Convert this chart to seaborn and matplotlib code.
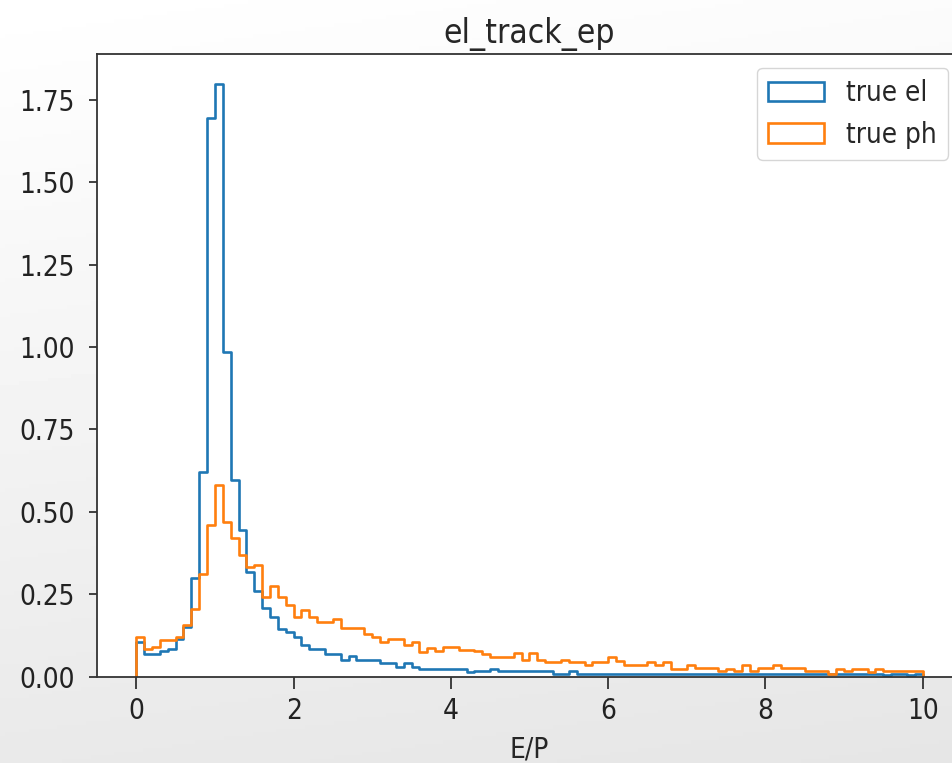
import numpy as np
import pandas as pd
import matplotlib
matplotlib.use("Agg")
import matplotlib.pyplot as plt
from matplotlib.patches import Patch
import seaborn as sns

# ---- data (density per bin, 100 bins of width 0.1 on [0, 10]) ----
bin_edges = [round(0.1 * i, 1) for i in range(101)]
labels = ["true el", "true ph"]

el_density = [
    0.105, 0.069, 0.069, 0.077, 0.084, 0.115, 0.150, 0.300, 0.620, 1.697,
    1.800, 0.986, 0.598, 0.445, 0.318, 0.260, 0.207, 0.181, 0.145, 0.135,
    0.120, 0.095, 0.084, 0.084, 0.069, 0.069, 0.051, 0.061, 0.051, 0.051,
    0.051, 0.041, 0.041, 0.030, 0.041, 0.030, 0.023, 0.023, 0.023, 0.023,
    0.023, 0.023, 0.014, 0.016, 0.016, 0.024, 0.017, 0.017, 0.017, 0.017,
    0.017, 0.017, 0.017, 0.008, 0.008, 0.016, 0.008, 0.008, 0.008, 0.008,
    0.008, 0.008, 0.008, 0.008, 0.008, 0.008, 0.008, 0.008, 0.008, 0.008,
    0.008, 0.008, 0.008, 0.008, 0.008, 0.008, 0.008, 0.008, 0.008, 0.008,
    0.008, 0.008, 0.008, 0.008, 0.008, 0.008, 0.008, 0.008, 0.008, 0.008,
    0.008, 0.008, 0.008, 0.008, 0.008, 0.005, 0.008, 0.008, 0.005, 0.008,
]

ph_density = [
    0.120, 0.084, 0.089, 0.110, 0.110, 0.120, 0.155, 0.206, 0.310, 0.460,
    0.582, 0.470, 0.420, 0.369, 0.333, 0.340, 0.242, 0.274, 0.242, 0.216,
    0.181, 0.201, 0.181, 0.166, 0.166, 0.176, 0.148, 0.148, 0.148, 0.130,
    0.120, 0.105, 0.115, 0.115, 0.095, 0.105, 0.074, 0.086, 0.077, 0.089,
    0.089, 0.079, 0.079, 0.077, 0.067, 0.059, 0.059, 0.059, 0.071, 0.051,
    0.071, 0.051, 0.044, 0.044, 0.051, 0.044, 0.044, 0.034, 0.044, 0.044,
    0.059, 0.047, 0.034, 0.034, 0.034, 0.044, 0.034, 0.044, 0.023, 0.023,
    0.034, 0.025, 0.025, 0.025, 0.016, 0.023, 0.016, 0.034, 0.018, 0.026,
    0.026, 0.034, 0.026, 0.026, 0.026, 0.018, 0.018, 0.018, 0.008, 0.023,
    0.016, 0.023, 0.023, 0.013, 0.023, 0.016, 0.016, 0.016, 0.016, 0.016,
]

title = "el_track_ep"
xlabel = "E/P"
colors = ["#1f77b4", "#ff7f0e"]

# ---- style ----
sns.set_style("ticks")
plt.rcParams["font.family"] = ["DejaVu Sans"]
plt.rcParams["font.stretch"] = "condensed"

fig = plt.figure(figsize=(9.53, 7.63), dpi=100)

# background gradient like the screenshot
bg = fig.add_axes([0, 0, 1, 1], zorder=-10)
yy = np.linspace(0, 1, 200)[:, None]
xx = np.linspace(0, 1, 200)[None, :]
grad = 1.0 - 0.10 * np.clip(0.85 * yy + 0.15 * xx, 0, 1)
bg.imshow(grad, cmap="gray", vmin=0, vmax=1, aspect="auto", extent=[0, 1, 0, 1])
bg.set_axis_off()

ax = fig.add_axes([97 / 953, 86.5 / 763, (962 - 97) / 953, (676.5 - 54) / 763])
ax.set_facecolor("white")

edges = np.array(bin_edges)
centers = (edges[:-1] + edges[1:]) / 2
series = [el_density, ph_density]
lw = 1.9
for lab, vals, col in zip(labels, series, colors):
    df = pd.DataFrame({"x": centers, "w": vals})
    sns.histplot(data=df, x="x", weights="w", bins=bin_edges, element="step",
                 fill=False, stat="count", color=col, linewidth=lw, ax=ax)
    # closing verticals at the outer bin edges (like a step histogram)
    ax.vlines([edges[0], edges[-1]], 0, [vals[0], vals[-1]],
              color=col, linewidth=lw)

ax.set_xlim(-0.5, 10.5)
ax.set_ylim(0, 1.89)
yt = [0, 0.25, 0.5, 0.75, 1.0, 1.25, 1.5, 1.75]
ax.set_xticks([0, 2, 4, 6, 8, 10])
ax.set_yticks(yt)
ax.set_yticklabels([f"{v:.2f}" for v in yt])
ax.set_ylabel("")
ax.set_xlabel(xlabel, fontsize=20, labelpad=8)
ax.set_title(title, fontsize=24, pad=8)

for s in ax.spines.values():
    s.set_visible(True)
    s.set_color("#333333")
    s.set_linewidth(1.3)
ax.tick_params(axis="x", length=8.5, width=1.2, pad=6, labelsize=20, colors="#222222")
ax.tick_params(axis="y", length=6, width=1.2, pad=10, labelsize=20, colors="#222222")

handles = [Patch(facecolor="none", edgecolor=c, linewidth=lw) for c in colors]
ax.legend(handles, labels, loc="upper right", fontsize=20, frameon=True,
          framealpha=0.8, edgecolor="#cccccc", fancybox=True)

fig.savefig("out.png", dpi=100)
